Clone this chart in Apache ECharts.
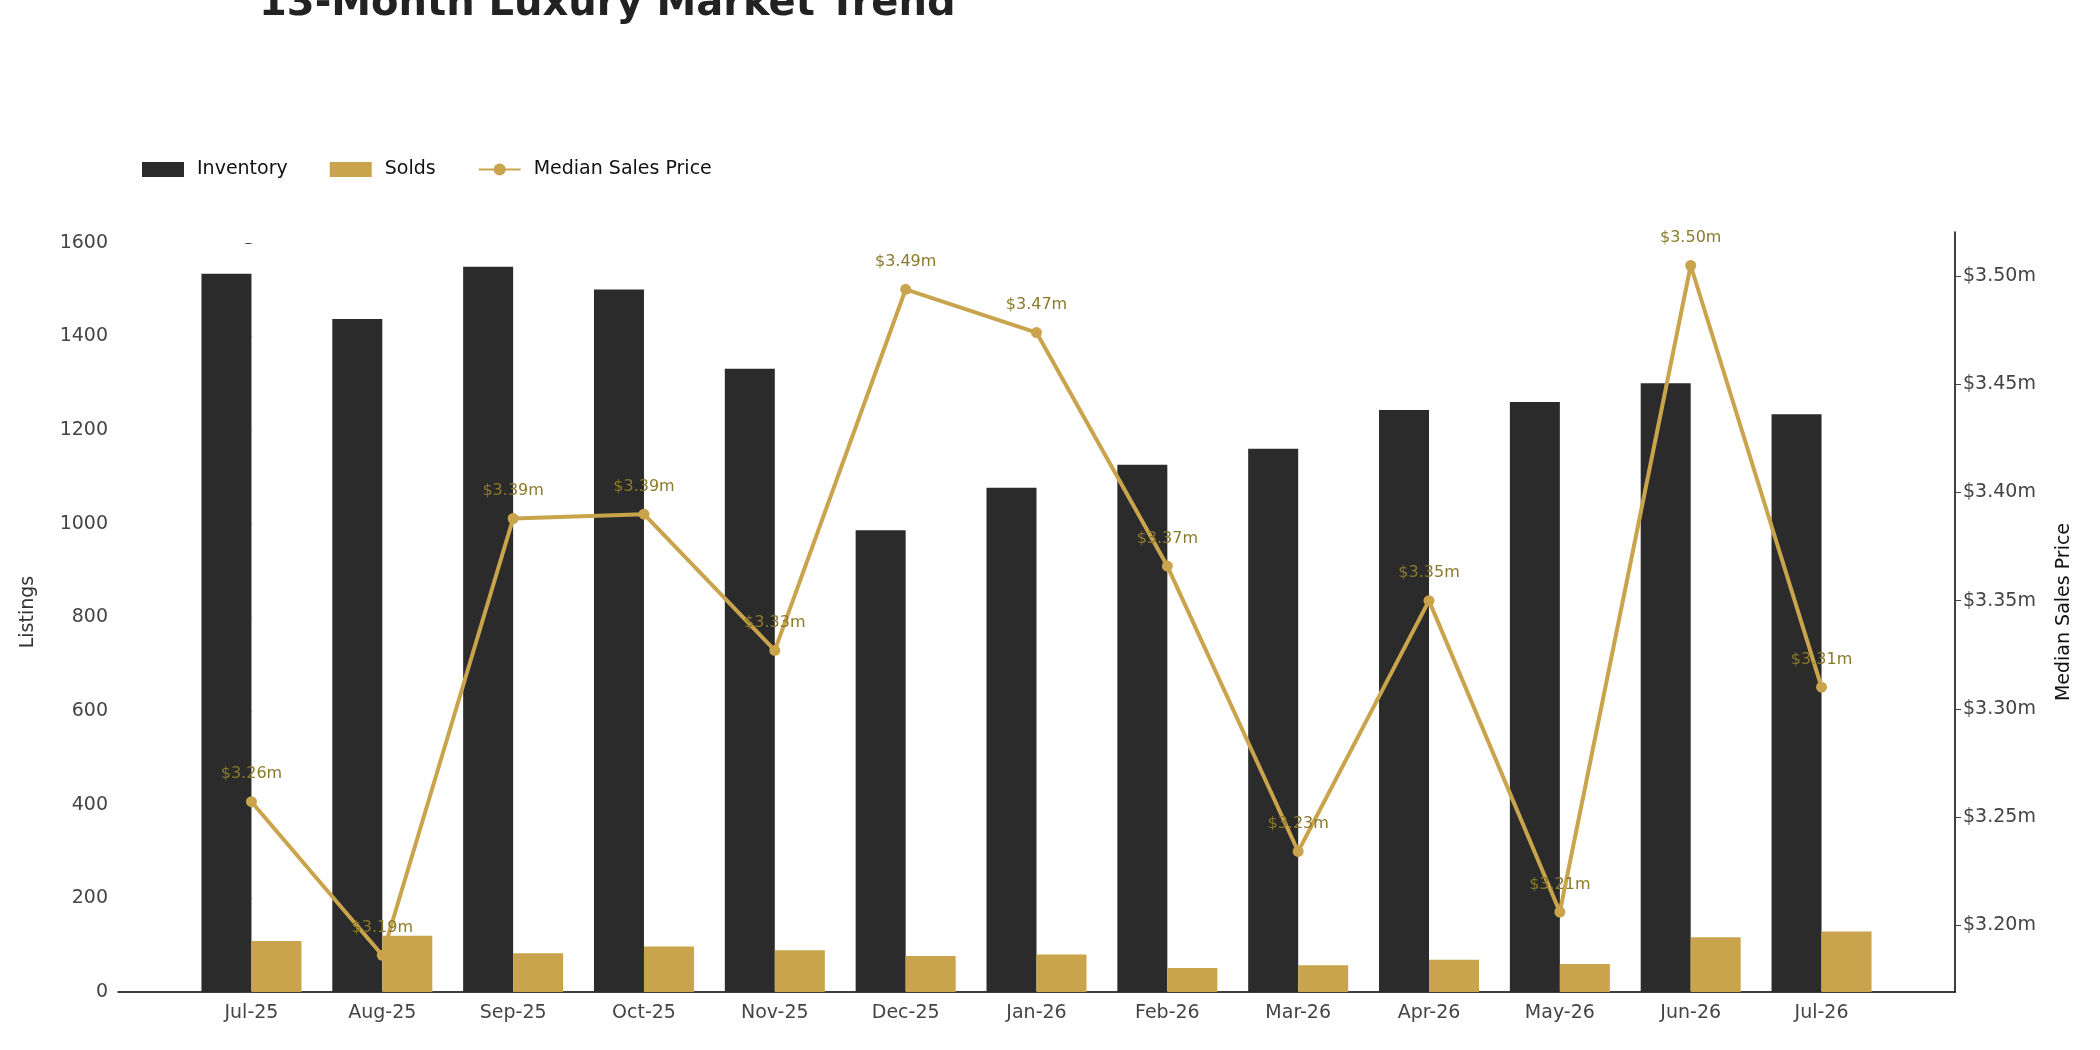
<!DOCTYPE html>
<html><head><meta charset="utf-8">
<script src="https://cdn.jsdelivr.net/npm/echarts@6/dist/echarts.min.js"></script>
<style>html,body{margin:0;padding:0;background:#fff}#c{width:2100px;height:1050px}</style>
</head><body><div id="c"></div>
<script>
const categories = ['Jul-25','Aug-25','Sep-25','Oct-25','Nov-25','Dec-25','Jan-26','Feb-26','Mar-26','Apr-26','May-26','Jun-26','Jul-26'];
const inventory = [1534,1437,1549,1500,1331,986,1077,1126,1160,1243,1260,1300,1234];
const solds = [109,120,83,97,89,77,80,51,57,69,60,117,129];
const medianPrice = [3.257,3.186,3.388,3.390,3.327,3.494,3.474,3.366,3.234,3.350,3.206,3.505,3.310];
const leftTicks = [0,200,400,600,800,1000,1200,1400,1600];
const rightTicks = [3.20,3.25,3.30,3.35,3.40,3.45,3.50];
const F = 'DejaVu Sans';
const idx = categories.map((c,i)=>i);
const pair = arr => arr.map((v,i)=>[i,v]);
const chart = echarts.init(document.getElementById('c'));
chart.setOption({
  animation:false,
  textStyle:{fontFamily:F},
  title:{text:'13-Month Luxury Market Trend',left:254,top:-20,textStyle:{fontFamily:F,fontSize:40,fontWeight:'bold',color:'#222'}},
  legend:{left:137,top:155,itemWidth:42,itemHeight:15,itemGap:42,textStyle:{fontFamily:F,fontSize:19,color:'#111',padding:[0,0,0,8]},
    data:[{name:'Inventory',icon:'rect'},{name:'Solds',icon:'rect'},{name:'Median Sales Price'}]},
  grid:{left:118,right:145,top:232,bottom:58},
  xAxis:{type:'value',min:-1.02,max:13.02,axisLine:{onZero:false,lineStyle:{color:'#000',width:1.5}},splitLine:{show:false},
    axisTick:{show:false},
    axisLabel:{fontFamily:F,fontSize:19,color:'#444',margin:12,customValues:idx,formatter:v=>categories[Math.round(v)]}},
  yAxis:[
    {type:'value',min:0,max:1623,name:'Listings',nameLocation:'middle',nameGap:80,nameTextStyle:{fontFamily:F,fontSize:19,color:'#333'},
     axisLine:{show:false},splitLine:{show:false},
     axisTick:{show:true,length:6,lineStyle:{color:'#444'},customValues:leftTicks},
     axisLabel:{fontFamily:F,fontSize:19,color:'#444',margin:10,customValues:leftTicks,formatter:v=>String(v)}},
    {type:'value',min:3.169,max:3.5205,position:'right',name:'Median Sales Price',nameLocation:'middle',nameGap:100,nameRotate:90,
     nameTextStyle:{fontFamily:F,fontSize:19,color:'#111'},
     axisLine:{show:true,lineStyle:{color:'#000',width:1.5}},splitLine:{show:false},
     axisTick:{show:true,length:6,lineStyle:{color:'#444'},customValues:rightTicks},
     axisLabel:{fontFamily:F,fontSize:19,color:'#444',customValues:rightTicks,formatter:v=>'$'+v.toFixed(2)+'m'}}
  ],
  series:[
    {name:'Inventory',type:'bar',data:pair(inventory),barWidth:50,barGap:'0%',itemStyle:{color:'#2b2b2b'}},
    {name:'Solds',type:'bar',data:pair(solds),barWidth:50,itemStyle:{color:'#c9a44c'}},
    {name:'Median Sales Price',type:'line',yAxisIndex:1,data:pair(medianPrice),symbol:'circle',symbolSize:11,
     lineStyle:{color:'#c9a44c',width:4},itemStyle:{color:'#c9a44c'},
     label:{show:true,position:'top',distance:14,fontFamily:F,fontSize:16,color:'#8a7a2a',formatter:p=>'$'+p.value[1].toFixed(2)+'m'}}
  ]
});
</script></body></html>
